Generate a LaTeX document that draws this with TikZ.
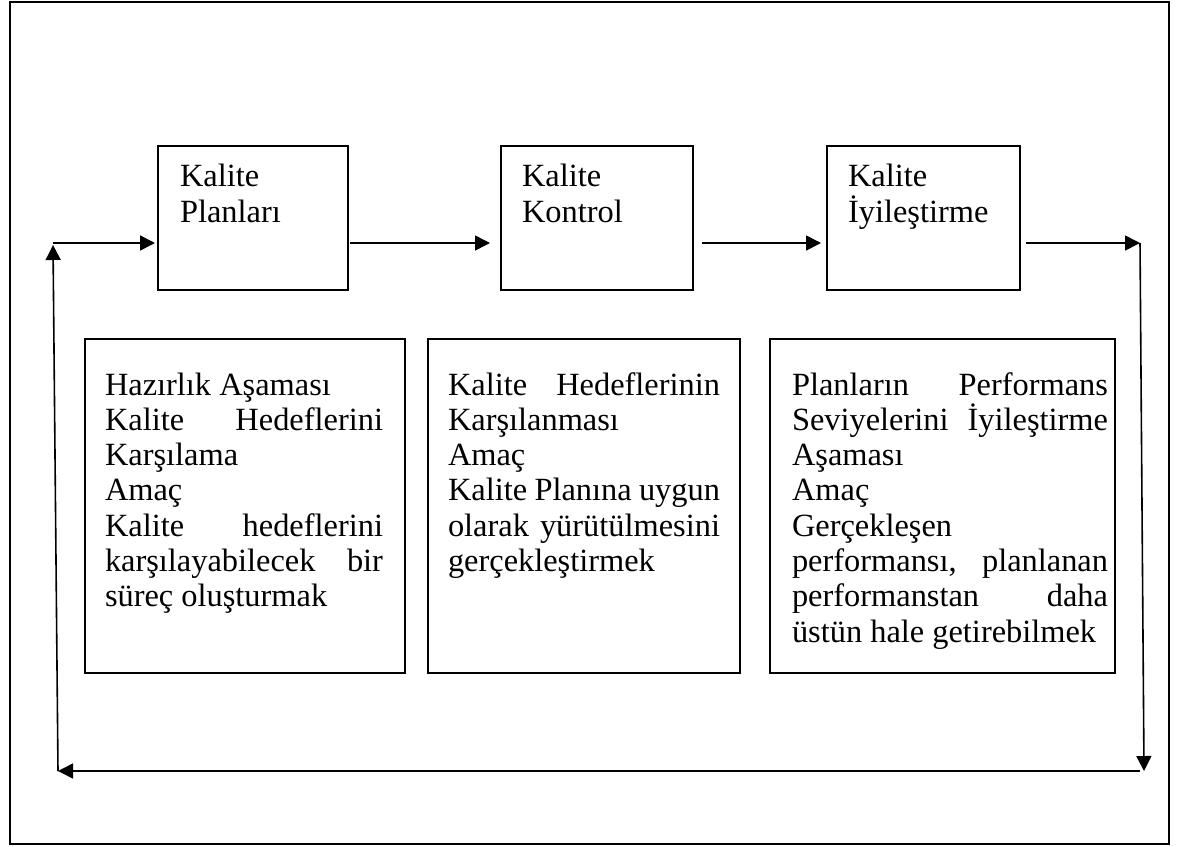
\documentclass[tikz,border=0pt]{standalone}
\usepackage{fontspec}
\setmainfont{Liberation Serif}
\usetikzlibrary{arrows.meta}

\begin{document}
\begin{tikzpicture}[x=0.5pt,y=-0.5pt,
  stagebox/.style={draw,line width=0.8pt,rectangle,inner sep=0pt,outer sep=0pt},
  flow/.style={line width=0.8pt,-{Triangle[length=7.5pt,width=7.5pt]}},
  txt/.style={anchor=base west,inner sep=0pt,outer sep=0pt,font=\fontsize{16.2pt}{18pt}\selectfont}]

\useasboundingbox (0,0) rectangle (1181,846);
% outer frame
\draw[line width=1pt] (10,2) rectangle (1169,844);

% stage boxes (top row)
\node[stagebox,minimum width=95pt,minimum height=72pt] (p1) at (253,218) {};
\node[stagebox,minimum width=96pt,minimum height=72pt] (p2) at (597,218) {};
\node[stagebox,minimum width=96.5pt,minimum height=72pt] (p3) at (923.5,218) {};

\node[txt] (t1) at (180,186) {\parbox[t]{80pt}{\setlength\baselineskip{18.3pt}Kalite\\Planları}};
\node[txt] (t2) at (522,186) {\parbox[t]{80pt}{\setlength\baselineskip{18.3pt}Kalite\\Kontrol}};
\node[txt] (t3) at (848,186) {\parbox[t]{80pt}{\setlength\baselineskip{18.3pt}Kalite\\İyileştirme}};

% description boxes (bottom row)
\node[stagebox,minimum width=160pt,minimum height=167pt] (d1) at (245,506) {};
\node[stagebox,minimum width=156pt,minimum height=167pt] (d2) at (584,506) {};
\node[stagebox,minimum width=172.5pt,minimum height=167pt] (d3) at (942.5,506) {};

\newcommand{\jline}[1]{\makebox[\linewidth][s]{#1}}

\node[txt] (x1) at (105,395) {\parbox[t]{139pt}{\setlength\baselineskip{17.65pt}%
Hazırlık Aşaması\\
\jline{Kalite Hedeflerini}\\
Karşılama\\
Amaç\\
\jline{Kalite hedeflerini}\\
\jline{karşılayabilecek bir}\\
süreç oluşturmak}};

\node[txt] (x2) at (448,395) {\parbox[t]{136pt}{\setlength\baselineskip{17.65pt}%
\jline{Kalite Hedeflerinin}\\
Karşılanması\\
Amaç\\
\jline{Kalite Planına uygun}\\
\jline{olarak yürütülmesini}\\
gerçekleştirmek}};

\node[txt] (x3) at (792,395) {\parbox[t]{158pt}{\setlength\baselineskip{17.65pt}%
\jline{Planların Performans}\\
\jline{Seviyelerini İyileştirme}\\
Aşaması\\
Amaç\\
Gerçekleşen\\
\jline{performansı, planlanan}\\
\jline{performanstan daha}\\
üstün hale getirebilmek}};

% feedback loop corners
\coordinate (tl) at (53,243);
\coordinate (tr) at (1140,243);
\coordinate (br) at (1144,771);
\coordinate (bl) at (58,771);

% connectors, running below the box centres
\draw[flow,shorten >=1.5pt] (tl) -- ([yshift=-12.5pt]p1.west);
\draw[flow,shorten <=1pt,shorten >=5.5pt] ([yshift=-12.5pt]p1.east) -- ([yshift=-12.5pt]p2.west);
\draw[flow,shorten <=4.5pt,shorten >=3pt] ([yshift=-12.5pt]p2.east) -- ([yshift=-12.5pt]p3.west);
\draw[flow,shorten <=3pt] ([yshift=-12.5pt]p3.east) -- (tr);
\draw[flow] (tr) -- (br);
\draw[flow] ([xshift=-2pt]br) -- (bl);
\draw[flow,shorten >=1pt] (bl) -- (tl);
\end{tikzpicture}
\end{document}
